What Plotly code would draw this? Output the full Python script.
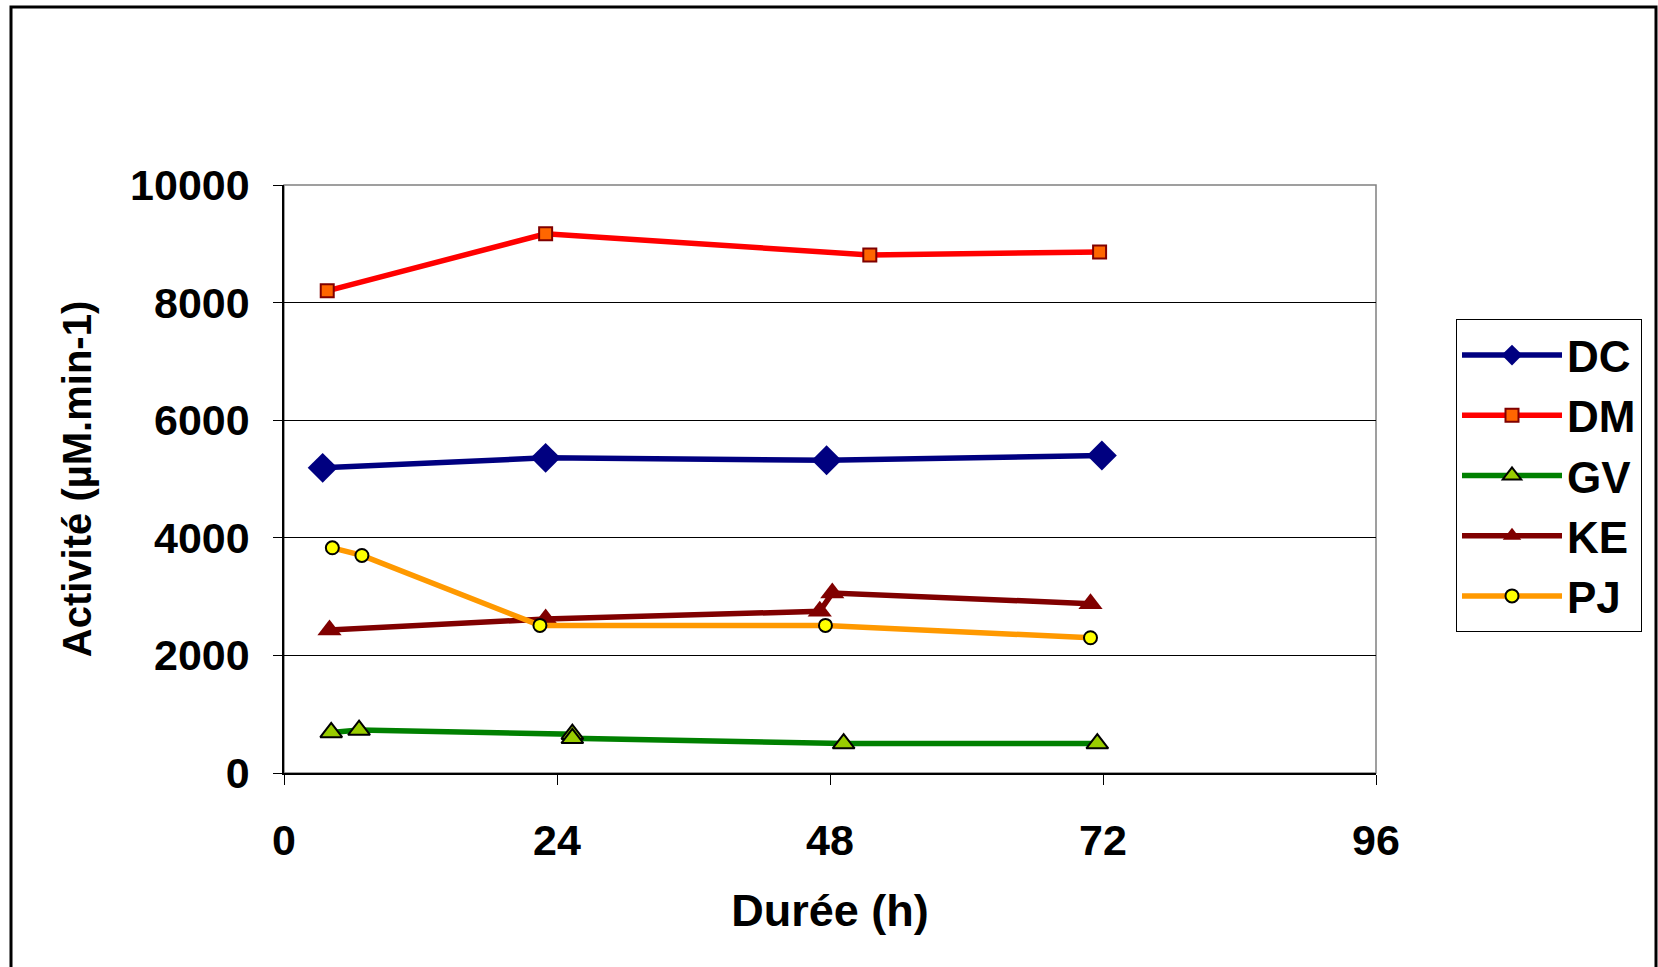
import plotly.graph_objects as go

# Sampling times (h) and activity (µM.min-1) for each extract
dc_x = [3.4, 23.0, 47.7, 71.9]
dc_y = [5190, 5360, 5320, 5400]

dm_x = [3.8, 23.0, 51.5, 71.7]
dm_y = [8200, 9170, 8810, 8860]

gv_x = [4.15, 6.6, 25.35, 25.35, 49.2, 71.5]
gv_y = [690, 730, 660, 590, 500, 500]

ke_x = [4.0, 23.0, 47.1, 48.2, 70.9]
ke_y = [2430, 2620, 2750, 3060, 2880]

pj_x = [4.25, 6.85, 22.5, 47.6, 70.9]
pj_y = [3830, 3700, 2510, 2510, 2300]

x_ticks = [0, 24, 48, 72, 96]
y_ticks = [0, 2000, 4000, 6000, 8000, 10000]

FONT = "Liberation Sans, Arial, sans-serif"
W, H = 1658, 967
ML, MR, MT, MB = 284, 282, 185, 194

fig = go.Figure()

series = [
    ("DC", dc_x, dc_y, "#000080", dict(symbol="diamond", size=23, color="#000080",
                                        line=dict(width=0))),
    ("DM", dm_x, dm_y, "#FF0000", dict(symbol="square", size=13, color="#FF6600",
                                        line=dict(width=2, color="#800000"))),
    ("GV", gv_x, gv_y, "#008000", dict(symbol="triangle-up", size=19, color="#99CC00",
                                        line=dict(width=2, color="#000000"))),
    ("KE", ke_x, ke_y, "#800000", dict(symbol="triangle-up", size=21, color="#800000",
                                        line=dict(width=0))),
    ("PJ", pj_x, pj_y, "#FF9900", dict(symbol="circle", size=13, color="#FFFF00",
                                        line=dict(width=2, color="#000000"))),
]

for name, xs, ys, lc, mk in series:
    fig.add_trace(go.Scatter(
        x=xs, y=ys, name=name, mode="lines+markers",
        line=dict(color=lc, width=5.5),
        marker=mk, legendgroup=name,
    ))

def px_x(p):
    return (p - ML) / (W - ML - MR)

def px_y(p):
    return (H - MB - p) / (H - MT - MB)

shapes = [
    # plot area frame
    dict(type="rect", xref="paper", yref="paper", x0=0, x1=1, y0=0, y1=1,
         line=dict(color="#808080", width=1.5), layer="below"),
    # outer chart frame
    dict(type="rect", xref="paper", yref="paper",
         x0=px_x(11), x1=px_x(1656), y0=px_y(990), y1=px_y(7),
         line=dict(color="#000000", width=3)),
]

fig.update_layout(
    width=W, height=H,
    margin=dict(l=ML, r=MR, t=MT, b=MB),
    paper_bgcolor="white", plot_bgcolor="white",
    font=dict(family=FONT, size=40, color="black"),
    showlegend=True,
    legend=dict(
        x=px_x(1456), y=px_y(319), xanchor="left", yanchor="top",
        bordercolor="#000000", borderwidth=1, bgcolor="white",
        font=dict(family=FONT, size=44, color="black", weight="bold"),
        itemwidth=100, tracegroupgap=0, traceorder="grouped",
    ),
    xaxis=dict(
        range=[0, 96], tickvals=x_ticks, ticktext=[str(v) for v in x_ticks],
        showgrid=False, zeroline=False,
        showline=True, linecolor="#000000", linewidth=1.5,
        ticks="outside", ticklen=10, tickcolor="#000000", tickwidth=1,
        ticklabelstandoff=19,
        tickfont=dict(family=FONT, size=43, weight="bold"),
        title=dict(text="Durée (h)", font=dict(family=FONT, size=45, weight="bold"),
                   standoff=31),
    ),
    yaxis=dict(
        range=[0, 10000], tickvals=y_ticks, ticktext=[str(v) for v in y_ticks],
        showgrid=True, gridcolor="#000000", gridwidth=1, zeroline=False,
        showline=True, linecolor="#000000", linewidth=1.5,
        ticks="outside", ticklen=9, tickcolor="#000000", tickwidth=1,
        ticklabelstandoff=15,
        tickfont=dict(family=FONT, size=43, weight="bold"),
        title=dict(text="Activité (µM.min-1)", font=dict(family=FONT, size=40, weight="bold"),
                   standoff=26),
    ),
    shapes=shapes,
)

fig.write_html("out.html")
